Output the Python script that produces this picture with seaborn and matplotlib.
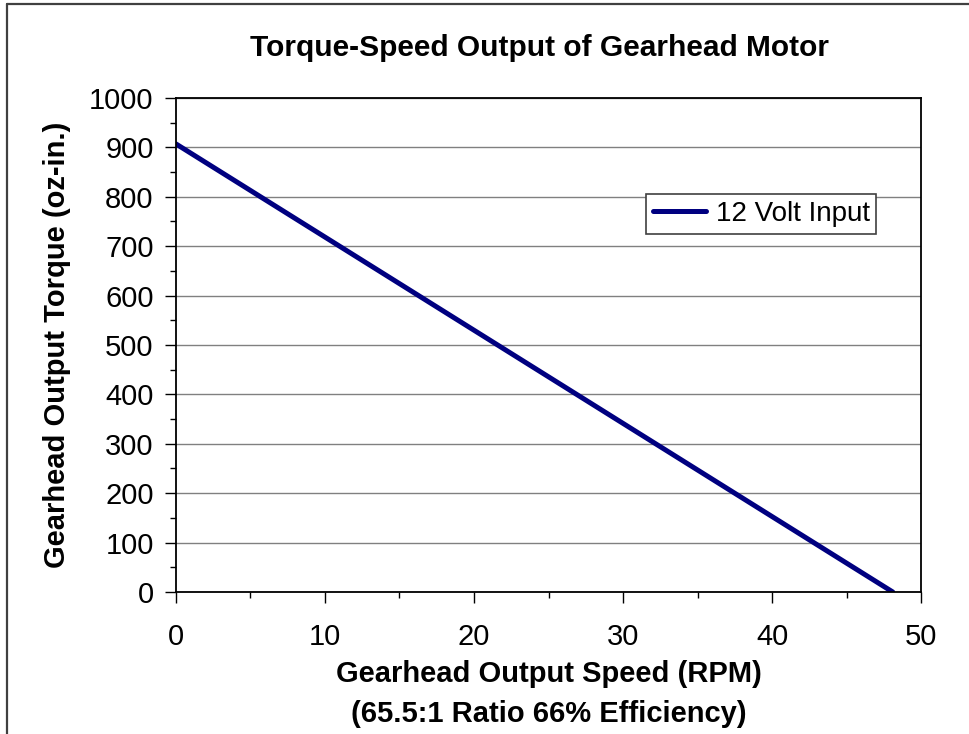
import numpy as np
import pandas as pd
import matplotlib
matplotlib.use("Agg")
import matplotlib.pyplot as plt
from matplotlib.lines import Line2D
from matplotlib.ticker import MultipleLocator
import seaborn as sns

# ---- data ----
speed_rpm = [0.0, 48.1]
torque_ozin = [907.0, 0.0]
series_name = "12 Volt Input"

title = "Torque-Speed Output of Gearhead Motor"
xlabel = "Gearhead Output Speed (RPM)\n(65.5:1 Ratio 66% Efficiency)"
ylabel = "Gearhead Output Torque (oz-in.)"

df = pd.DataFrame({"speed": speed_rpm, "torque": torque_ozin, "series": series_name})

sns.set_theme(style="ticks")
plt.rcParams["font.family"] = ["Liberation Sans", "DejaVu Sans"]
plt.rcParams["text.color"] = "black"
plt.rcParams["axes.labelcolor"] = "black"

fig = plt.figure(figsize=(9.69, 7.34), dpi=100)
ax = fig.add_axes([0.1816, 0.1935, 0.7689, 0.673])

sns.lineplot(data=df, x="speed", y="torque", hue="series", palette=["#000080"],
             linewidth=3.6, ax=ax)

ax.set_xlim(0, 50)
ax.set_ylim(0, 1000)
ax.xaxis.set_major_locator(MultipleLocator(10))
ax.xaxis.set_minor_locator(MultipleLocator(5))
ax.yaxis.set_major_locator(MultipleLocator(100))
ax.yaxis.set_minor_locator(MultipleLocator(50))
ax.tick_params(which="major", direction="out", length=8, width=1, color="black",
               labelsize=21, labelcolor="black")
ax.tick_params(axis="y", which="major", pad=8)
ax.tick_params(axis="x", which="major", pad=14)
ax.tick_params(which="minor", direction="out", length=4, width=1, color="black")

ax.grid(axis="y", which="major", color="#808080", linewidth=1)
ax.set_axisbelow(True)
for s in ax.spines.values():
    s.set_visible(True)
    s.set_color("black")
    s.set_linewidth(1.3)

ax.set_title(title, fontsize=21.5, fontweight="bold", pad=30, color="black", x=0.488)
ax.set_xlabel(xlabel, fontsize=21, fontweight="bold", linespacing=1.55)
ax.set_ylabel(ylabel, fontsize=21, fontweight="bold")
ax.xaxis.set_label_coords(0.5, -0.138)
ax.yaxis.set_label_coords(-0.141, 0.5)

leg = ax.legend(loc="upper left", bbox_to_anchor=(0.631, 0.806), fontsize=20,
                frameon=True, fancybox=False, framealpha=1, edgecolor="#404040",
                handlelength=1.9, handletextpad=0.35, borderpad=0.25,
                borderaxespad=0)
leg.get_frame().set_linewidth(1.2)
for t in leg.get_texts():
    t.set_color("black")

# outer chart-area frame (cropped on the right and bottom in the reference)
fig.add_artist(Line2D([0.0072, 0.0072], [0.0, 0.9946], color="#404040", linewidth=1.6,
                      transform=fig.transFigure))
fig.add_artist(Line2D([0.0072, 1.0], [0.9946, 0.9946], color="#404040", linewidth=1.6,
                      transform=fig.transFigure))

fig.savefig("out.png", dpi=100)
